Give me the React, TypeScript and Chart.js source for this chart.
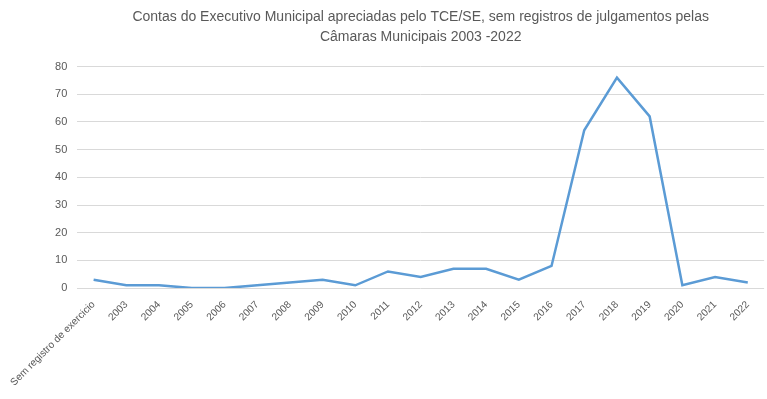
import React, { useEffect, useRef } from "react";
import { Chart, registerables } from "chart.js";

Chart.register(...registerables);

const titleLines = [
  "Contas do Executivo Municipal apreciadas pelo TCE/SE, sem registros de julgamentos pelas",
  "Câmaras Municipais 2003 -2022",
];

const categories = [
  "Sem registro de exercicio",
  "2003", "2004", "2005", "2006", "2007", "2008", "2009", "2010", "2011", "2012",
  "2013", "2014", "2015", "2016", "2017", "2018", "2019", "2020", "2021", "2022",
];

const values = [3, 1, 1, 0, 0, 1, 2, 3, 1, 6, 4, 7, 7, 3, 8, 57, 76, 62, 1, 4, 2];

const yMin = 0;
const yMax = 80;
const yStep = 10;

const textColor = "#595959";
const fontFamily = "'Liberation Sans', 'DejaVu Sans', sans-serif";

export default function App() {
  const ref = useRef<HTMLCanvasElement | null>(null);

  useEffect(() => {
    if (!ref.current) return;
    const chart = new Chart(ref.current, {
      type: "line",
      data: {
        labels: categories,
        datasets: [
          {
            data: values,
            borderColor: "#5B9BD5",
            borderWidth: 2.5,
            pointRadius: 0,
            tension: 0,
            fill: false,
          },
        ],
      },
      options: {
        animation: false,
        responsive: true,
        maintainAspectRatio: false,
        layout: { padding: { left: 0, right: 0, top: 7, bottom: 0 } },
        plugins: {
          legend: { display: false },
          tooltip: { enabled: false },
          title: {
            display: true,
            text: titleLines,
            color: textColor,
            fullSize: false,
            font: { family: fontFamily, size: 14, weight: "normal", lineHeight: 1.45 },
            padding: { top: 0, bottom: 19 },
          },
        },
        scales: {
          x: {
            offset: true,
            grid: { display: false, drawTicks: false },
            border: { display: false },
            ticks: {
              color: textColor,
              font: { family: fontFamily, size: 10.2 },
              maxRotation: 45,
              minRotation: 45,
              autoSkip: false,
              padding: 10.5,
            },
          },
          y: {
            min: yMin,
            max: yMax,
            grid: { color: "#D9D9D9", drawTicks: false, lineWidth: 1 },
            border: { display: false },
            ticks: {
              stepSize: yStep,
              color: textColor,
              font: { family: fontFamily, size: 11 },
              padding: 10,
            },
          },
        },
      },
    });
    return () => chart.destroy();
  }, []);

  return (
    <div style={{ position: "absolute", left: 0, top: 0, width: 767, height: 399, background: "#fff" }}>
      <canvas ref={ref} />
    </div>
  );
}
